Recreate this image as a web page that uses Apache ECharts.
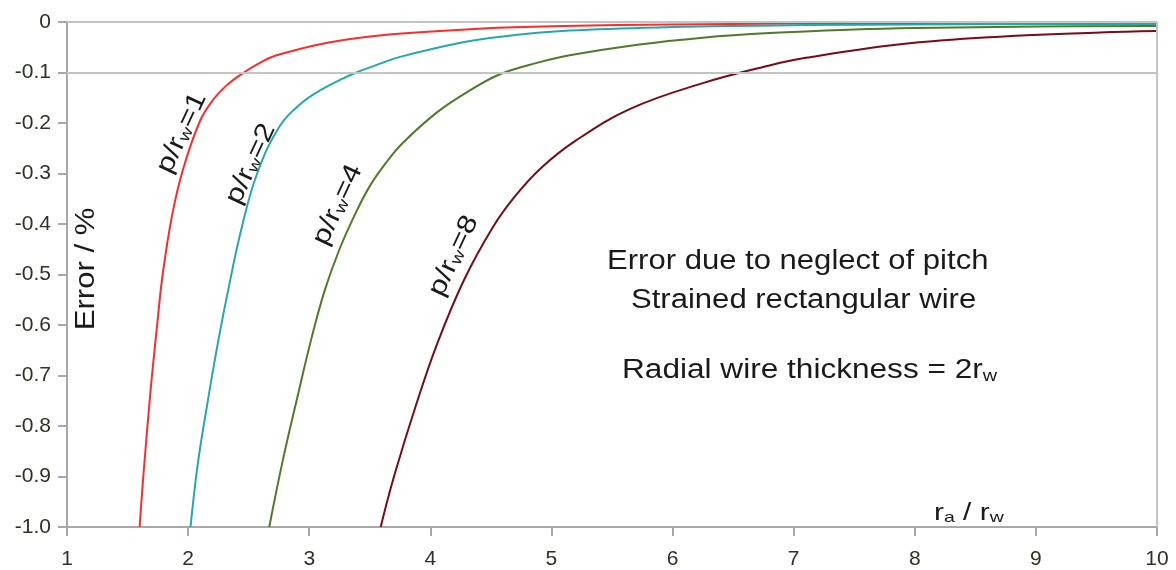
<!DOCTYPE html>
<html>
<head>
<meta charset="utf-8">
<script src="https://cdn.jsdelivr.net/npm/echarts@6/dist/echarts.min.js"></script>
<style>
  html, body { margin: 0; padding: 0; background: #fff; }
  #chart { width: 1176px; height: 570px; }
</style>
</head>
<body>
<div id="chart"></div>
<script>
// values, [ra/rw, error %]
const pOver1 = [[1.60,-1.0],[1.63,-0.90],[1.69,-0.73],[1.74,-0.61],[1.79,-0.50],[1.87,-0.38],[1.96,-0.29],[2.10,-0.195],[2.21,-0.153],[2.32,-0.125],[2.46,-0.100],[2.60,-0.080],[2.73,-0.066],[3.15,-0.041],[3.6,-0.026],[4.43,-0.013],[5.1,-0.008],[6,-0.005],[7,-0.003],[8,-0.002],[9,-0.0015],[10,-0.001]];
const pOver2 = [[2.02,-1.0],[2.08,-0.875],[2.17,-0.74],[2.25,-0.63],[2.34,-0.52],[2.44,-0.41],[2.57,-0.30],[2.76,-0.205],[2.95,-0.158],[3.10,-0.134],[3.25,-0.115],[3.38,-0.101],[3.58,-0.083],[3.75,-0.069],[4.25,-0.041],[4.58,-0.029],[5.15,-0.017],[6.0,-0.010],[7.1,-0.006],[8,-0.005],[9,-0.004],[10,-0.004]];
const pOver4 = [[2.67,-1.0],[2.78,-0.87],[2.91,-0.735],[3.02,-0.625],[3.13,-0.53],[3.25,-0.45],[3.38,-0.38],[3.5,-0.325],[3.63,-0.28],[3.77,-0.24],[4.06,-0.178],[4.33,-0.135],[4.58,-0.103],[4.88,-0.081],[5.15,-0.066],[5.71,-0.045],[6.25,-0.031],[6.8,-0.022],[7.5,-0.015],[8,-0.012],[9,-0.009],[10,-0.008]];
const pOver8 = [[3.59,-1.0],[3.70,-0.90],[3.88,-0.76],[4.06,-0.635],[4.28,-0.51],[4.52,-0.405],[4.70,-0.345],[4.91,-0.29],[5.2,-0.235],[5.65,-0.172],[6.25,-0.121],[6.8,-0.086],[7.1,-0.071],[7.88,-0.044],[8.7,-0.029],[9.53,-0.021],[10,-0.018]];

const seriesNames = ['p/rw=1', 'p/rw=2', 'p/rw=4', 'p/rw=8'];
const seriesData = [pOver1, pOver2, pOver4, pOver8];
const seriesColors = ['#ff2a2a', '#22a9ad', '#4f7a28', '#7a0a14'];
const curveLabels = ['1', '2', '4', '8'];
const gridLinesY = [0, -0.1];

const chart = echarts.init(document.getElementById('chart'), null, { renderer: 'canvas' });

const font = '"Liberation Sans", Arial, sans-serif';
const textCol = '#1a1a1a';

// rotated p/rw=N labels next to each curve
const labelSpots = [[180, 132], [249, 163], [336, 204], [452, 255]];
const rotated = curveLabels.map((n, i) => ({
    type: 'text',
    x: labelSpots[i][0],
    y: labelSpots[i][1],
    rotation: 65 * Math.PI / 180,
    scaleX: 1.2,
    style: {
        text: '{n|p/r}{s|w}{n|=' + n + '}',
        align: 'center',
        verticalAlign: 'middle',
        fill: textCol,
        rich: {
            n: { fontSize: 26, fontFamily: font, lineHeight: 30, verticalAlign: 'bottom' },
            s: { fontSize: 16, fontFamily: font, lineHeight: 22, verticalAlign: 'bottom' }
        }
    }
}));

const subText = (x, y, text, size, subSize, sx) => ({
    type: 'text', x: x, y: y, scaleX: sx,
    style: {
        text: text,
        fill: textCol, align: 'left', verticalAlign: 'middle',
        rich: {
            n: { fontSize: size, fontFamily: font, lineHeight: size + 4, verticalAlign: 'bottom' },
            s: { fontSize: subSize, fontFamily: font, lineHeight: subSize + 8, verticalAlign: 'bottom' }
        }
    }
});

const series = seriesData.map((d, i) => ({
    name: seriesNames[i],
    type: 'line',
    data: d,
    showSymbol: false,
    smooth: 0.4,
    lineStyle: { color: seriesColors[i], width: 2 },
    z: 3
}));

// grey grid lines + right frame
series.unshift({
    type: 'line',
    data: [],
    silent: true,
    z: 1,
    markLine: {
        silent: true,
        symbol: 'none',
        label: { show: false },
        lineStyle: { color: '#c4c4c4', width: 2, type: 'solid' },
        data: gridLinesY.map(v => ({ yAxis: v })).concat([{ xAxis: 10 }])
    }
});

chart.setOption({
    animation: false,
    grid: { left: 67, right: 19, top: 22, bottom: 42 },
    xAxis: {
        type: 'value', min: 1, max: 10, interval: 1,
        axisLine: { onZero: false, lineStyle: { color: '#a8a8a8', width: 2 } },
        axisTick: { show: true, length: 9, lineStyle: { color: '#a8a8a8', width: 2 } },
        axisLabel: { color: '#2b3324', fontSize: 21, fontFamily: font, margin: 22 },
        splitLine: { show: false }
    },
    yAxis: {
        type: 'value', min: -1, max: 0, interval: 0.1,
        axisLine: { show: true, onZero: false, lineStyle: { color: '#a8a8a8', width: 2 } },
        axisTick: { show: true, length: 9, lineStyle: { color: '#a8a8a8', width: 2 } },
        axisLabel: {
            color: '#2b3324', fontSize: 21, fontFamily: font, margin: 16,
            formatter: v => (v === 0 ? '0' : v.toFixed(1))
        },
        splitLine: { show: false }
    },
    series: series,
    graphic: rotated.concat([
        {
            type: 'text', x: 87, y: 269, rotation: Math.PI / 2, scaleX: 1.15,
            style: { text: 'Error / %', fontSize: 27, fontFamily: font, fill: textCol, align: 'center', verticalAlign: 'middle' }
        },
        subText(607, 260, '{n|Error due to neglect of pitch}', 27, 16, 1.15),
        subText(631, 299, '{n|Strained rectangular wire}', 27, 16, 1.15),
        subText(622, 369, '{n|Radial wire thickness = 2r}{s|w}', 27, 17, 1.17),
        subText(934, 512, '{n|r}{s|a}{n| / r}{s|w}', 23, 15, 1.3)
    ])
});

window.addEventListener('resize', () => chart.resize());
</script>
</body>
</html>
